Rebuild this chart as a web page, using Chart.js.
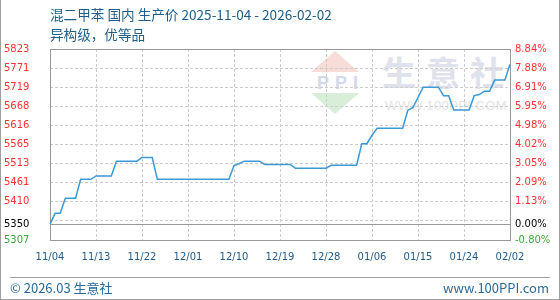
<!DOCTYPE html>
<html>
<head>
<meta charset="utf-8">
<script src="https://cdn.jsdelivr.net/npm/chart.js@4.4.0/dist/chart.umd.min.js"></script>
<style>
  body { margin: 0; background: #fff; }
  #wrap { position: relative; width: 560px; height: 300px; overflow: hidden; background: #fff; }
  .abs { position: absolute; white-space: nowrap; }
  .title { left: 50px; font: 13.6px "Noto Sans CJK SC", sans-serif; color: #1d5f8c; line-height: 16px; }
  .foot { top: 280px; font: 13px "Noto Sans CJK SC", sans-serif; color: #2a6a9a; line-height: 16px; }
</style>
</head>
<body>
<div id="wrap">
  <!-- watermark, sits under the transparent canvas -->
  <div class="abs" style="left:311px;top:51px;width:0;height:0;border-left:24.5px solid transparent;border-right:24.5px solid transparent;border-bottom:21px solid #f8dcd8;"></div>
  <div class="abs" style="left:311px;top:73px;width:49px;text-align:center;font:bold 18px 'Liberation Sans';letter-spacing:6px;text-indent:6px;color:#d3d9ea;line-height:20px;">PPI</div>
  <div class="abs" style="left:311px;top:93px;width:0;height:0;border-left:24.5px solid transparent;border-right:24.5px solid transparent;border-top:21px solid #d9eed9;"></div>
  <div class="abs" style="left:382px;top:50px;font:bold 34px 'Noto Sans CJK SC';letter-spacing:10px;color:#dfe2ec;line-height:44px;">生意社</div>
  <div class="abs" style="left:385px;top:98px;font:13px 'Liberation Sans';letter-spacing:0.4px;color:#e4e4e4;line-height:16px;">WWW.100PPI.COM</div>

  <div class="abs" style="left:0;top:0;width:560px;height:300px;"><canvas id="chart"></canvas></div>

  <div class="abs title" style="top:6px;">混二甲苯 国内 生产价 2025-11-04 - 2026-02-02</div>
  <div class="abs title" style="top:26px;">异构级，优等品</div>

  <div class="abs" style="left:10px;top:277px;width:540px;height:1px;background:#a0a0a0;"></div>
  <div class="abs foot" style="left:10px;">© 2026.03 生意社</div>
  <div class="abs foot" style="right:11px;">www.100PPI.com</div>
  <div class="abs" style="left:0;top:0;width:560px;height:300px;box-sizing:border-box;border:1px solid #a0a0a0;border-top:none;"></div>
</div>
<script>
const dates = [
  '11/04','11/05','11/06','11/07','11/08','11/09','11/10','11/11','11/12','11/13','11/14','11/15','11/16','11/17',
  '11/18','11/19','11/20','11/21','11/22','11/23','11/24','11/25','11/26','11/27','11/28','11/29','11/30',
  '12/01','12/02','12/03','12/04','12/05','12/06','12/07','12/08','12/09','12/10','12/11','12/12','12/13','12/14','12/15',
  '12/16','12/17','12/18','12/19','12/20','12/21','12/22','12/23','12/24','12/25','12/26','12/27','12/28','12/29','12/30','12/31',
  '01/01','01/02','01/03','01/04','01/05','01/06','01/07','01/08','01/09','01/10','01/11','01/12','01/13','01/14','01/15',
  '01/16','01/17','01/18','01/19','01/20','01/21','01/22','01/23','01/24','01/25','01/26','01/27','01/28','01/29','01/30','01/31',
  '02/01','02/02'
];

const prices = [
  // Nov
  5350, 5379, 5379, 5420, 5420, 5420, 5471, 5471, 5471, 5480, 5480, 5480, 5480, 5520,
  5520, 5520, 5520, 5520, 5530, 5530, 5530, 5471, 5471, 5471, 5471, 5471, 5471,
  // Dec
  5471, 5471, 5471, 5471, 5471, 5471, 5471, 5471, 5471, 5508, 5513, 5520, 5520, 5520, 5520,
  5511, 5511, 5511, 5511, 5511, 5511, 5501, 5501, 5501, 5501, 5501, 5501, 5501, 5509, 5509, 5509,
  // Jan
  5509, 5509, 5509, 5567, 5567, 5590, 5609, 5609, 5609, 5609, 5609, 5609, 5657, 5665, 5692,
  5720, 5720, 5720, 5720, 5697, 5697, 5658, 5658, 5658, 5658, 5697, 5700, 5709, 5709, 5739, 5739,
  // Feb
  5739, 5782
];

const xTickLabels = ['11/04','11/13','11/22','12/01','12/10','12/19','12/28','01/06','01/15','01/24','02/02'];
const yTickValues = [5307, 5350, 5358.6, 5410.2, 5461.8, 5513.4, 5565, 5616.6, 5668.2, 5719.8, 5771.4, 5823];
const yTickLabels = ['5307', '5350', '', '5410', '5461', '5513', '5565', '5616', '5668', '5719', '5771', '5823'];
const pctTickLabels = ['-0.80%', '0.00%', '', '1.13%', '2.09%', '3.05%', '4.02%', '4.98%', '5.95%', '6.91%', '7.88%', '8.84%'];
const basePrice = 5350;
const yMin = 5307;
const yMax = 5823;

const tickFont = { family: 'DejaVu Sans', size: 10 };

function tickColor(ctx) {
  const v = ctx.tick.value;
  if (v === yMin) return '#3aa83a';
  if (v === basePrice) return '#000000';
  return '#ff3333';
}

// frame round the plot and the solid line at the starting price
const framePlugin = {
  id: 'frame',
  beforeDatasetsDraw(chart) {
    const { ctx, chartArea: a } = chart;
    const yb = Math.round(chart.scales.y.getPixelForValue(basePrice)) + 0.5;
    ctx.save();
    ctx.strokeStyle = '#999';
    ctx.lineWidth = 1;
    ctx.beginPath();
    ctx.moveTo(a.left, yb);
    ctx.lineTo(a.right, yb);
    ctx.stroke();
    ctx.strokeRect(Math.round(a.left) + 0.5, Math.round(a.top) + 0.5,
      Math.round(a.right - a.left), Math.round(a.bottom - a.top));
    ctx.restore();
  }
};

const config = {
  type: 'line',
  data: {
    labels: dates,
    datasets: [{
      data: prices,
      borderColor: '#3d98d6',
      borderWidth: 1.5,
      pointRadius: 0,
      tension: 0,
      fill: false
    }]
  },
  options: {
    animation: false,
    responsive: true,
    maintainAspectRatio: false,
    layout: { padding: { left: 4, top: 49, right: 0, bottom: 0 } },
    scales: {
      x: {
        offset: false,
        afterFit: (s) => { s.height = 60; },
        grid: {
          drawTicks: false,
          color: (ctx) => {
            const i = ctx.index;
            if (i > 0 && i < dates.length - 1 && xTickLabels.includes(dates[i])) return '#cccccc';
            return 'transparent';
          }
        },
        border: { display: false, dash: [3, 2] },
        ticks: {
          autoSkip: false,
          maxRotation: 0,
          padding: 11,
          color: '#1f5a88',
          font: tickFont,
          callback: (val, i) => xTickLabels.includes(dates[i]) ? dates[i] : ''
        }
      },
      y: {
        position: 'left',
        min: yMin,
        max: yMax,
        afterFit: (s) => { s.width = 46; },
        afterBuildTicks: (s) => { s.ticks = yTickValues.map(v => ({ value: v })); },
        grid: {
          drawTicks: false,
          color: (ctx) => {
            const v = ctx.tick && ctx.tick.value;
            if (v === yMin || v === yMax || v === basePrice) return 'transparent';
            return '#cccccc';
          }
        },
        border: { display: false, dash: [3, 2] },
        ticks: {
          autoSkip: false,
          crossAlign: 'far',
          font: tickFont,
          color: tickColor,
          callback: (val, i) => yTickLabels[i]
        }
      },
      y1: {
        position: 'right',
        min: yMin,
        max: yMax,
        afterFit: (s) => { s.width = 50; },
        afterBuildTicks: (s) => { s.ticks = yTickValues.map(v => ({ value: v })); },
        grid: { display: false, drawTicks: false },
        border: { display: false },
        ticks: {
          autoSkip: false,
          padding: 5,
          font: tickFont,
          color: tickColor,
          callback: (val, i) => pctTickLabels[i]
        }
      }
    },
    plugins: {
      legend: { display: false },
      tooltip: { enabled: false }
    }
  },
  plugins: [framePlugin]
};

const chart = new Chart(document.getElementById('chart'), config);
</script>
</body>
</html>
